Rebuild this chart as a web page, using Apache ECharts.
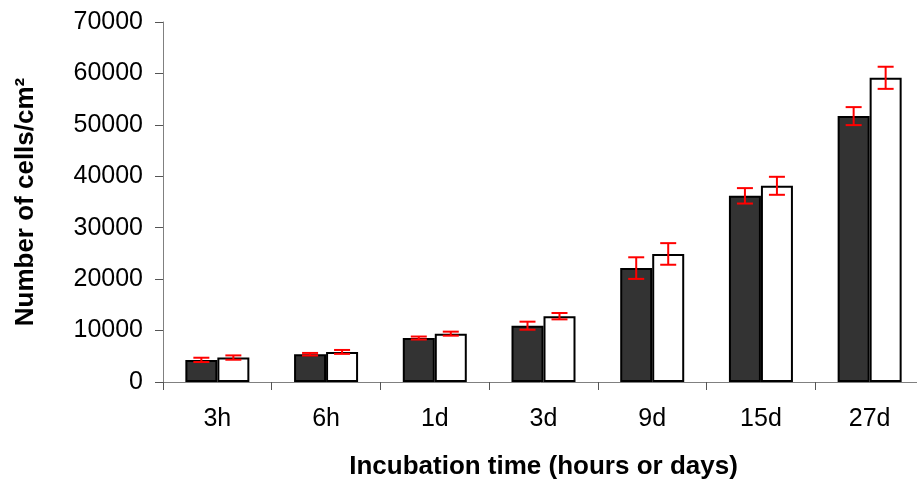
<!DOCTYPE html>
<html>
<head>
<meta charset="utf-8">
<script src="https://cdn.jsdelivr.net/npm/echarts@6/dist/echarts.min.js"></script>
<style>html,body{margin:0;padding:0;background:#fff}#c{width:917px;height:482px}</style>
</head>
<body>
<div id="c"></div>
<script>
var categories = ['3h', '6h', '1d', '3d', '9d', '15d', '27d'];
var darkValues = [4300, 5400, 8550, 10950, 22150, 36200, 51700];
var darkErrors = [420, 250, 290, 780, 2100, 1500, 1750];
var whiteValues = [4750, 5850, 9400, 12800, 24900, 38150, 59150];
var whiteErrors = [420, 380, 390, 620, 2100, 1750, 2150];
var yTicks = { min: 0, max: 70000, interval: 10000 };

var BAR_W = 32, BORDER = 2;
var FONT = 'Liberation Sans, Arial, sans-serif';
function errData(vals, errs) {
  return vals.map(function (v, i) { return [i, v - errs[i], v + errs[i]]; });
}
function errRender(offset) {
  return function (params, api) {
    var x = api.value(0);
    var lo = api.coord([x, api.value(1)]);
    var hi = api.coord([x, api.value(2)]);
    var cx = lo[0] + offset;
    var half = 8;
    var st = { stroke: '#ff0000', lineWidth: 2 };
    return {
      type: 'group',
      children: [
        { type: 'line', shape: { x1: cx, y1: hi[1], x2: cx, y2: lo[1] }, style: st },
        { type: 'line', shape: { x1: cx - half, y1: hi[1], x2: cx + half, y2: hi[1] }, style: st },
        { type: 'line', shape: { x1: cx - half, y1: lo[1], x2: cx + half, y2: lo[1] }, style: st }
      ]
    };
  };
}

var chart = echarts.init(document.getElementById('c'), null, { renderer: 'canvas' });
chart.setOption({
  animation: false,
  backgroundColor: '#ffffff',
  grid: { left: 163, right: -7, top: 22, bottom: 100, containLabel: false, outerBoundsMode: 'none' },
  xAxis: {
    type: 'category',
    data: categories,
    axisLine: { lineStyle: { color: '#808080', width: 1 } },
    axisTick: { show: true, alignWithLabel: false, length: 8, lineStyle: { color: '#555' } },
    axisLabel: { color: '#000', fontFamily: FONT, fontSize: 25, margin: 25 },
    name: 'Incubation time (hours or days)',
    nameLocation: 'middle',
    nameGap: 72,
    nameTextStyle: { color: '#000', fontFamily: FONT, fontSize: 26, fontWeight: 'bold' }
  },
  yAxis: {
    type: 'value',
    min: yTicks.min, max: yTicks.max, interval: yTicks.interval,
    splitLine: { show: false },
    axisLine: { show: true, lineStyle: { color: '#808080', width: 1 } },
    axisTick: { show: true, length: 8, lineStyle: { color: '#555' } },
    axisLabel: { color: '#000', fontFamily: FONT, fontSize: 25, margin: 20,
      formatter: function (v) { return String(v); } },
    name: 'Number of cells/cm²',
    nameLocation: 'middle',
    nameGap: 124,
    nameTextStyle: { color: '#000', fontFamily: FONT, fontSize: 26, fontWeight: 'bold' }
  },
  series: [
    {
      type: 'bar', data: darkValues, barWidth: BAR_W, barGap: '0%',
      itemStyle: { color: '#333333', borderColor: '#000', borderWidth: BORDER }
    },
    {
      type: 'bar', data: whiteValues, barWidth: BAR_W, barGap: '0%',
      itemStyle: { color: '#ffffff', borderColor: '#000', borderWidth: BORDER }
    },
    {
      type: 'custom', data: errData(darkValues, darkErrors), renderItem: errRender(-BAR_W / 2),
      encode: { x: 0, y: [1, 2] }, z: 10
    },
    {
      type: 'custom', data: errData(whiteValues, whiteErrors), renderItem: errRender(BAR_W / 2),
      encode: { x: 0, y: [1, 2] }, z: 10
    }
  ]
});
</script>
</body>
</html>
